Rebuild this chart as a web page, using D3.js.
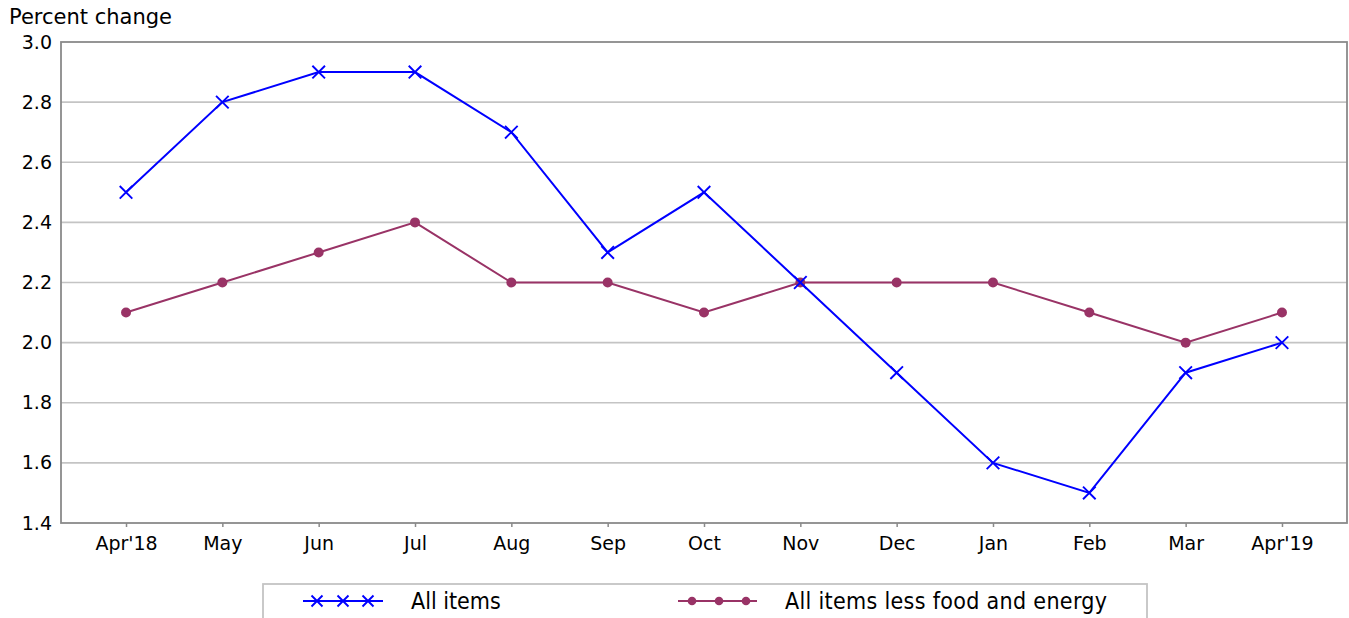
<meta charset="utf-8">
<body style="margin:0;background:#fff">
<script src="https://d3js.org/d3.v7.min.js"></script>
<script>
var months = ["Apr'18", "May", "Jun", "Jul", "Aug", "Sep", "Oct", "Nov", "Dec", "Jan", "Feb", "Mar", "Apr'19"];
var allItems = [2.5, 2.8, 2.9, 2.9, 2.7, 2.3, 2.5, 2.2, 1.9, 1.6, 1.5, 1.9, 2.0];
var coreItems = [2.1, 2.2, 2.3, 2.4, 2.2, 2.2, 2.1, 2.2, 2.2, 2.2, 2.1, 2.0, 2.1];
var yTicks = [1.4, 1.6, 1.8, 2.0, 2.2, 2.4, 2.6, 2.8, 3.0];
var seriesNames = ["All items", "All items less food and energy"];

var W = 1349, H = 618;
var plot = { left: 61, right: 1347, top: 42, bottom: 523 };

var svg = d3.select("body").append("svg")
    .attr("width", W).attr("height", H)
    .style("font-family", "'DejaVu Sans', sans-serif");

var x = d3.scalePoint().domain(months).range([plot.left, plot.right]).padding(0.675);
var y = d3.scaleLinear().domain([1.4, 3.0]).range([plot.bottom, plot.top]);

// gridlines
svg.append("g").selectAll("line")
    .data(yTicks.slice(1, -1))
    .enter().append("line")
    .attr("x1", plot.left).attr("x2", plot.right)
    .attr("y1", function (d) { return y(d); })
    .attr("y2", function (d) { return y(d); })
    .attr("stroke", "#c4c4c4").attr("stroke-width", 1.6);

// frame
svg.append("rect")
    .attr("x", plot.left).attr("y", plot.top)
    .attr("width", plot.right - plot.left).attr("height", plot.bottom - plot.top)
    .attr("fill", "none").attr("stroke", "#8a8a8a").attr("stroke-width", 1.8);

// y axis labels
var yAxis = d3.axisLeft(y).tickValues(yTicks).tickFormat(d3.format(".1f")).tickSize(0).tickPadding(9);
var gy = svg.append("g").attr("transform", "translate(" + plot.left + ",0)").call(yAxis);
gy.select(".domain").remove();
gy.selectAll("text").attr("font-size", 19).attr("fill", "#000")
    .style("font-family", "'DejaVu Sans', sans-serif");

// x axis
var xAxis = d3.axisBottom(x).tickSize(4).tickPadding(10);
var gx = svg.append("g").attr("transform", "translate(0," + plot.bottom + ")").call(xAxis);
gx.select(".domain").remove();
gx.selectAll("line").attr("stroke", "#8a8a8a").attr("stroke-width", 1.5);
gx.selectAll("text").attr("font-size", 19).attr("fill", "#000")
    .style("font-family", "'DejaVu Sans', sans-serif");

svg.append("text")
    .attr("x", 9).attr("y", 24)
    .attr("font-size", 21)
    .text("Percent change");

var line = d3.line()
    .x(function (d, i) { return x(months[i]); })
    .y(function (d) { return y(d); });

// core series
svg.append("path").datum(coreItems)
    .attr("d", line).attr("fill", "none")
    .attr("stroke", "#993366").attr("stroke-width", 2);
svg.append("g").selectAll("circle")
    .data(coreItems).enter().append("circle")
    .attr("cx", function (d, i) { return x(months[i]); })
    .attr("cy", function (d) { return y(d); })
    .attr("r", 5).attr("fill", "#993366");

// all items series
svg.append("path").datum(allItems)
    .attr("d", line).attr("fill", "none")
    .attr("stroke", "#0000ff").attr("stroke-width", 2);

function cross(g, cx, cy, s, color) {
    g.append("path")
        .attr("d", "M" + (cx - s) + "," + (cy - s) + "L" + (cx + s) + "," + (cy + s) +
                   "M" + (cx - s) + "," + (cy + s) + "L" + (cx + s) + "," + (cy - s))
        .attr("stroke", color).attr("stroke-width", 1.9).attr("fill", "none");
}
var gMarks = svg.append("g");
allItems.forEach(function (d, i) { cross(gMarks, x(months[i]), y(d), 6.3, "#0000ff"); });

// legend
var lg = svg.append("g");
lg.append("rect")
    .attr("x", 263).attr("y", 584).attr("width", 884).attr("height", 60)
    .attr("fill", "#fff").attr("stroke", "#c4c4c4").attr("stroke-width", 1.8);

var ly = 601;
lg.append("line").attr("x1", 303).attr("x2", 383).attr("y1", ly).attr("y2", ly)
    .attr("stroke", "#0000ff").attr("stroke-width", 2);
[317, 343, 368].forEach(function (cx) { cross(lg, cx, ly, 5.5, "#0000ff"); });
lg.append("text").attr("x", 411).attr("y", ly + 8)
    .attr("font-size", 23).style("font-family", "'DejaVu Sans Condensed', 'DejaVu Sans', sans-serif")
    .text(seriesNames[0]);

lg.append("line").attr("x1", 678).attr("x2", 757).attr("y1", ly).attr("y2", ly)
    .attr("stroke", "#993366").attr("stroke-width", 2);
[692, 719, 746].forEach(function (cx) {
    lg.append("circle").attr("cx", cx).attr("cy", ly).attr("r", 4.3).attr("fill", "#993366");
});
lg.append("text").attr("x", 785).attr("y", ly + 8)
    .attr("font-size", 23).attr("textLength", 322)
    .style("font-family", "'DejaVu Sans Condensed', 'DejaVu Sans', sans-serif")
    .text(seriesNames[1]);
</script>
</body>
